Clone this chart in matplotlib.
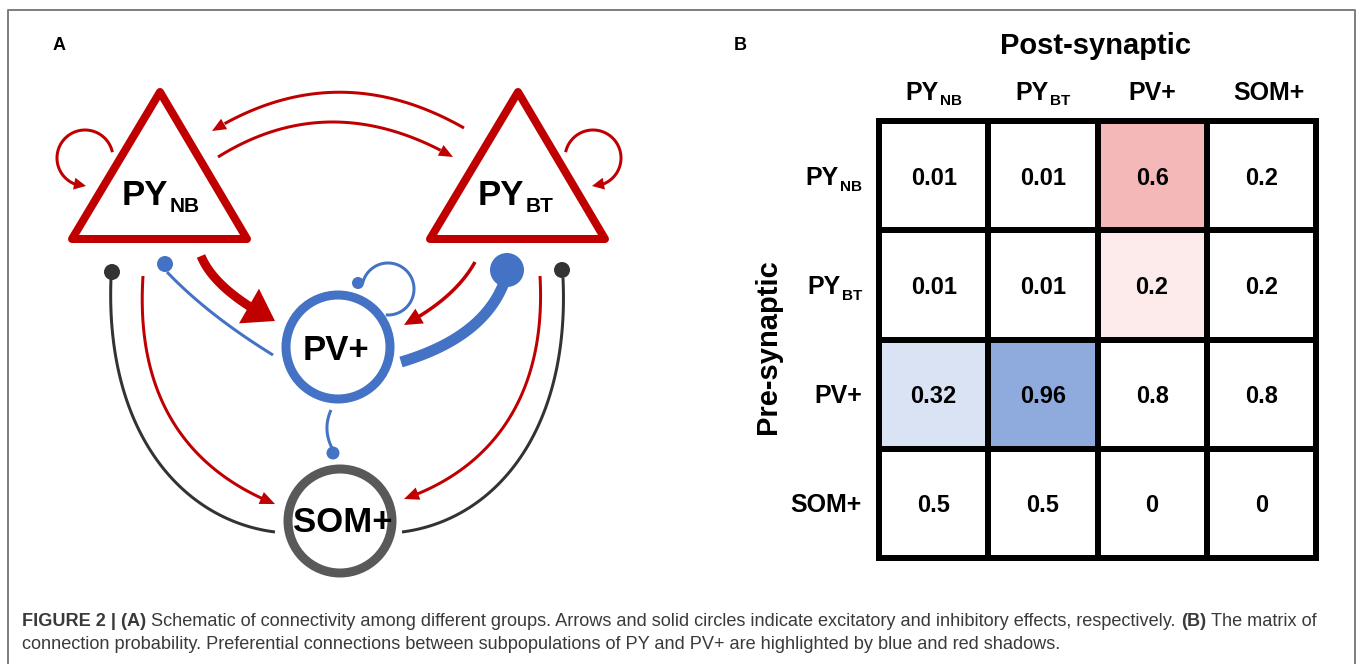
import numpy as np
import matplotlib.pyplot as plt
from matplotlib.patches import Circle, Polygon
from matplotlib.colors import ListedColormap

plt.rcParams['font.family'] = ['Liberation Sans', 'DejaVu Sans']

# ---- data for panel B ----
pop_labels = [('PY', 'NB'), ('PY', 'BT'), ('PV+', ''), ('SOM+', '')]
conn_prob = [[0.01, 0.01, 0.6, 0.2],
             [0.01, 0.01, 0.2, 0.2],
             [0.32, 0.96, 0.8, 0.8],
             [0.5, 0.5, 0, 0]]
# 0 = none, 1/2 = red shadow, 3/4 = blue shadow
shade = [[0, 0, 1, 0],
         [0, 0, 2, 0],
         [3, 4, 0, 0],
         [0, 0, 0, 0]]
shade_colors = ['white', '#F5B8B8', '#FDEBEB', '#DAE3F3', '#8FAADC']

caption_1 = [('FIGURE 2 | (A)', 'bold'),
             ('Schematic of connectivity among different groups. Arrows and solid circles '
              'indicate excitatory and inhibitory effects, respectively.', 'normal'),
             ('(B)', 'bold'), ('The matrix of', 'normal')]
caption_2 = [('connection probability. Preferential connections between subpopulations '
              'of PY and PV+ are highlighted by blue and red shadows.', 'normal')]

RED = '#C00000'
BLUE = '#4472C4'
DARK = '#333333'
PX = 0.72  # points per pixel at dpi 100

fig = plt.figure(figsize=(13.57, 6.64), dpi=100)
ax = fig.add_axes([0, 0, 1, 1])
ax.set_xlim(0, 1357)
ax.set_ylim(664, 0)
ax.axis('off')
r = fig.canvas.get_renderer()

# frame
ax.plot([8, 8, 1355, 1355], [664, 10, 10, 664], color='#808080', lw=2 * PX)


def bez(p, n=80):
    p = np.array(p, float)
    t = np.linspace(0, 1, n)[:, None]
    if len(p) == 3:
        return (1 - t)**2 * p[0] + 2 * (1 - t) * t * p[1] + t**2 * p[2]
    return ((1 - t)**3 * p[0] + 3 * (1 - t)**2 * t * p[1]
            + 3 * (1 - t) * t**2 * p[2] + t**3 * p[3])


def loop(cx, cy, rad, t0, t1, n=80):
    t = np.radians(np.linspace(t0, t1, n))
    return np.column_stack([cx + rad * np.cos(t), cy - rad * np.sin(t)])


def line(pts, color, lw, z=1):
    ax.plot(pts[:, 0], pts[:, 1], color=color, lw=lw * PX,
            solid_capstyle='butt', zorder=z)


def arrow(pts, color, lw, hl, hw, z=2):
    tip = pts[-1]
    dist = np.linalg.norm(pts - tip, axis=1)
    idx = np.where(dist >= hl)[0][-1]
    d = tip - pts[idx]
    d = d / np.linalg.norm(d)
    base = tip - d * hl
    nrm = np.array([-d[1], d[0]])
    keep = dist > hl * 0.8
    line(pts[keep], color, lw, z)
    ax.add_patch(Polygon([tip, base + nrm * hw / 2, base - nrm * hw / 2],
                         closed=True, color=color, lw=0, zorder=z))


def dot(x, y, rad, color):
    ax.add_patch(Circle((x, y), rad, color=color, lw=0, zorder=4))


def sub_text(x, y, main, sub, fs, sfs, ha='center', drop=7, z=6):
    t1 = ax.text(0, y, main, fontsize=fs, weight='bold', va='baseline',
                 ha='left', zorder=z)
    t2 = ax.text(0, y + drop, sub, fontsize=sfs, weight='bold',
                 va='baseline', ha='left', zorder=z)
    w1 = t1.get_window_extent(r).width
    w2 = t2.get_window_extent(r).width if sub else 0
    tot = w1 + (w2 + 1 if sub else 0)
    x0 = x - tot / 2 if ha == 'center' else (x - tot if ha == 'right' else x)
    t1.set_x(x0)
    t2.set_x(x0 + w1 + 1)


# ---------------- panel A ----------------
ax.text(59, 46, 'A', fontsize=13, weight='bold', ha='center', va='center')

for tri in ([(160, 92), (72, 239), (247, 239)], [(518, 92), (430, 239), (605, 239)]):
    ax.add_patch(Polygon(tri, closed=True, facecolor='white', edgecolor=RED,
                         lw=8 * PX, joinstyle='round', zorder=3))
sub_text(122, 205, 'PY', 'NB', 25, 15, ha='left')
sub_text(478, 205, 'PY', 'BT', 25, 15, ha='left')

# self loops
arrow(loop(85, 158, 28, 12, 272), RED, 3, 12, 12)
arrow(loop(593, 158, 28, 168, -92), RED, 3, 12, 12)

# reciprocal PY arrows
arrow(bez([(464, 128), (336, 55), (212, 131)]), RED, 3, 14, 12)
arrow(bez([(218, 157), (330, 87), (453, 157)]), RED, 3, 14, 12)

# PY_NB outputs
arrow(bez([(201, 256), (215, 290), (275, 321)]), RED, 9, 30, 40)
line(bez([(167, 272), (208, 315), (273, 355)]), BLUE, 3)
dot(165, 264, 8, BLUE)
line(bez([(111, 278), (105, 430), (180, 520), (275, 532)]), DARK, 3)
dot(112, 272, 8, DARK)
arrow(bez([(143, 276), (135, 400), (190, 470), (275, 504)]), RED, 3, 15, 13)

# PY_BT outputs
arrow(bez([(475, 262), (455, 298), (404, 325)]), RED, 3.5, 18, 17)
line(bez([(505, 280), (485, 337), (401, 362)]), BLUE, 11)
dot(507, 270, 17, BLUE)
line(bez([(563, 278), (570, 430), (496, 520), (402, 532)]), DARK, 3)
dot(562, 270, 8, DARK)
arrow(bez([(540, 276), (547, 400), (488, 470), (404, 499)]), RED, 3, 15, 13)

# PV+ node
line(loop(388, 289, 26, 167, -95), BLUE, 3)
dot(358, 283, 6, BLUE)
ax.add_patch(Circle((338, 347), 52, facecolor='white', edgecolor=BLUE,
                    lw=9 * PX, zorder=3))
ax.text(336, 360, 'PV+', fontsize=25, weight='bold', ha='center',
        va='baseline', zorder=6)
line(bez([(331, 410), (322, 430), (333, 450)]), BLUE, 3)
dot(333, 453, 6.5, BLUE)

# SOM+ node
ax.add_patch(Circle((340, 521), 52, facecolor='white', edgecolor='#595959',
                    lw=9 * PX, zorder=3))
ax.text(343, 532, 'SOM+', fontsize=25, weight='bold', ha='center',
        va='baseline', zorder=6)

# ---------------- panel B ----------------
ax.text(740, 46, 'B', fontsize=13, weight='bold', ha='center', va='center')
gx, gy, gs = 879, 121, 437
cell = gs / 4
axm = fig.add_axes([gx / 1357, 1 - (gy + gs) / 664, gs / 1357, gs / 664])
axm.imshow(shade, cmap=ListedColormap(shade_colors), vmin=0,
           vmax=len(shade_colors) - 1, extent=(0, 4, 4, 0), aspect='auto',
           interpolation='nearest')
axm.set_xlim(0, 4)
axm.set_ylim(4, 0)
axm.axis('off')
for k in range(5):
    axm.plot([k, k], [0, 4], color='black', lw=6 * PX, clip_on=False,
             solid_capstyle='projecting')
    axm.plot([0, 4], [k, k], color='black', lw=6 * PX, clip_on=False,
             solid_capstyle='projecting')
for i, row in enumerate(conn_prob):
    for j, v in enumerate(row):
        axm.text(j + 0.5, i + 0.5, f'{v:g}', fontsize=17, weight='bold',
                 ha='center', va='center_baseline')

for k, (main, sub) in enumerate(pop_labels):
    hx = gx + cell * (k + 0.5) + (8 if main == 'SOM+' else 0)
    sub_text(hx, 100, main, sub, 18, 11, drop=5)
    sub_text(862, gy + cell * (k + 0.5) + 9, main, sub, 18, 11, ha='right',
             drop=6)

ax.text(1096, 54, 'Post-synaptic', fontsize=21, weight='bold', ha='center',
        va='baseline')
ax.text(768, 347, 'Pre-synaptic', fontsize=21, weight='bold', ha='center',
        va='center', rotation=90)

# ---------------- caption ----------------
def caption(parts, y, fs):
    x = 22
    space = fs * 0.278 / PX
    for s, w in parts:
        t = ax.text(x, y, s, fontsize=fs, weight=w, va='baseline', ha='left',
                    color='#3a3a3a')
        x += t.get_window_extent(r).width + space
    return x - space - 22


probe = caption(caption_1, -100, 10)
for t in list(ax.texts)[-len(caption_1):]:
    t.remove()
cfs = 10 * 1298 / probe
caption(caption_1, 626, cfs)
caption(caption_2, 649, cfs)

fig.savefig('out.png', dpi=100)
